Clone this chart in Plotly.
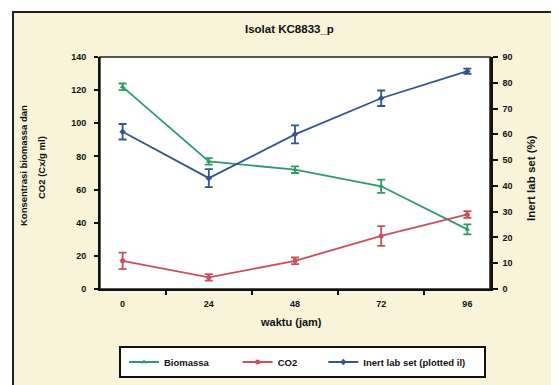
import plotly.graph_objects as go

categories = ["0", "24", "48", "72", "96"]
biomass = [122, 77, 72, 62, 36]
biomass_err = [2, 2, 2, 4, 3]
co2 = [17, 7, 17, 32, 45]
co2_err = [5, 2, 2, 6, 2]
inert = [61, 43, 60, 74, 84.5]
inert_err = [3, 3.5, 3.5, 3, 1]
left_ticks = [0, 20, 40, 60, 80, 100, 120, 140]
right_ticks = [0, 10, 20, 30, 40, 50, 60, 70, 80, 90]

GREEN = "#2f9b6c"
RED = "#c9505a"
BLUE = "#34558f"
FONT = dict(family="Liberation Sans, Arial", size=9, color="#111")

# page offset from default body margin
OFF = 8
W, H = 559 - OFF, 385 - OFF
PL, PR, PT, PB = 100, 490, 57, 289  # plot area in page pixels
L, R, T, B = PL - OFF, W - (PR - OFF), PT - OFF, H - (PB - OFF)
pw, ph = PR - PL, PB - PT


def px_x(p):
    return (p - PL) / pw


def px_y(p):
    return (PB - p) / ph


fig = go.Figure()
fig.add_trace(go.Scatter(
    x=categories, y=biomass, name="<b>Biomassa</b>" + "&nbsp;" * 9, mode="lines+markers",
    line=dict(color=GREEN, width=1.8), marker=dict(symbol="triangle-up", size=5, color=GREEN),
    error_y=dict(type="data", array=biomass_err, color=GREEN, thickness=1.8, width=4)))
fig.add_trace(go.Scatter(
    x=categories, y=co2, name="<b>CO2</b>" + "&nbsp;" * 8, mode="lines+markers",
    line=dict(color=RED, width=1.8), marker=dict(symbol="circle", size=5, color=RED),
    error_y=dict(type="data", array=co2_err, color=RED, thickness=1.8, width=4)))
fig.add_trace(go.Scatter(
    x=categories, y=inert, name="<b>Inert lab set (plotted il)</b>", mode="lines+markers",
    line=dict(color=BLUE, width=1.8), marker=dict(symbol="diamond", size=5, color=BLUE),
    error_y=dict(type="data", array=inert_err, color=BLUE, thickness=1.8, width=4),
    yaxis="y2"))

shapes = [
    dict(type="rect", xref="paper", yref="paper", layer="below",
         x0=px_x(13), x1=px_x(580), y0=px_y(400), y1=px_y(12),
         fillcolor="#f8f3d9", line=dict(color="#222", width=2)),
    dict(type="rect", xref="paper", yref="paper", layer="below",
         x0=0, x1=1, y0=0, y1=1, fillcolor="white", line=dict(color="#222", width=1.5)),
    dict(type="rect", xref="paper", yref="paper", layer="below",
         x0=px_x(120), x1=px_x(485), y0=px_y(377), y1=px_y(347),
         fillcolor="white", line=dict(color="#111", width=2)),
]

ann_common = dict(xref="paper", yref="paper", showarrow=False, xanchor="center", yanchor="middle")
annotations = [
    dict(text="<b>Isolat KC8833_p</b>", x=px_x(289), y=px_y(29), font=dict(FONT, size=11.5), **ann_common),
    dict(text="<b>waktu (jam)</b>", x=px_x(291), y=px_y(322), font=dict(FONT, size=11), **ann_common),
    dict(text="<b>Konsentrasi biomassa dan</b>", x=px_x(23), y=px_y(166),
         textangle=-90, font=dict(FONT, size=9.5), **ann_common),
    dict(text="<b>CO2 (Cx/g ml)</b>", x=px_x(41), y=px_y(168),
         textangle=-90, font=dict(FONT, size=9.5), **ann_common),
    dict(text="<b>Inert lab set (%)</b>", x=px_x(531), y=px_y(178),
         textangle=-90, font=dict(FONT, size=11.5), **ann_common),
]

fig.update_layout(
    width=W, height=H, margin=dict(l=L, r=R, t=T, b=B, autoexpand=False),
    paper_bgcolor="white", plot_bgcolor="rgba(0,0,0,0)",
    font=FONT, shapes=shapes, annotations=annotations,
    xaxis=dict(type="category", tickson="boundaries", ticks="outside", ticklen=4,
               tickwidth=1.5, tickcolor="#111", showline=True, linecolor="#111", linewidth=2,
               showgrid=False, tickfont=dict(FONT, size=9), ticklabelstandoff=5,
               tickvals=categories, ticktext=[f"<b>{c}</b>" for c in categories]),
    yaxis=dict(range=[0, 140], tickvals=left_ticks, ticktext=[f"<b>{v}</b>" for v in left_ticks],
               ticks="outside", ticklen=4, tickwidth=1.5, tickcolor="#111",
               showline=True, linecolor="#111", linewidth=2, showgrid=False, zeroline=False,
               ticklabelstandoff=6),
    yaxis2=dict(range=[0, 90], tickvals=right_ticks, ticktext=[f"<b>{v}</b>" for v in right_ticks],
                overlaying="y", side="right", ticks="outside", ticklen=5, tickwidth=1.5,
                tickcolor="#111", showline=True, linecolor="#111", linewidth=2.5,
                showgrid=False, zeroline=False, ticklabelstandoff=3),
    legend=dict(orientation="h", x=px_x(124), y=px_y(362), xanchor="left", yanchor="middle",
                bgcolor="rgba(0,0,0,0)", borderwidth=0,
                font=dict(FONT, size=9.5), itemwidth=30, tracegroupgap=0),
    showlegend=True,
)

fig.write_html("out.html")
